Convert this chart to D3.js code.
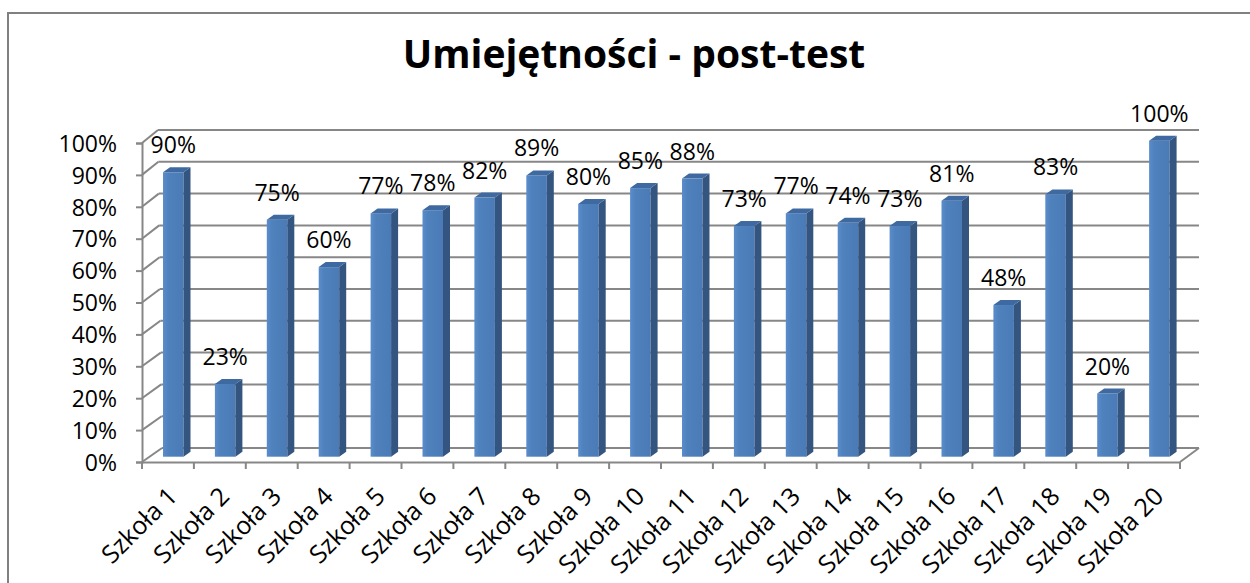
<!DOCTYPE html>
<html>
<head>
<meta charset="utf-8">
<script src="https://cdn.jsdelivr.net/npm/d3@7"></script>
<style>
  body { margin: 0; background: #fff; }
  svg { display: block; font-family: "Open Sans", sans-serif; }
</style>
</head>
<body>
<div id="chart"></div>
<script>
// data
const title = "Umiejętności - post-test";
const schools = d3.range(1, 21).map(i => "Szkoła " + i);
const scores = [0.90, 0.23, 0.75, 0.60, 0.77, 0.78, 0.82, 0.89, 0.80, 0.85,
                0.88, 0.73, 0.77, 0.74, 0.73, 0.81, 0.48, 0.83, 0.20, 1.00];
const yTicks = [0, 0.1, 0.2, 0.3, 0.4, 0.5, 0.6, 0.7, 0.8, 0.9, 1.0];

const width = 1250, height = 583;
const grid = "#878787";
const pct = d3.format(".0%");

const svg = d3.select("#chart").append("svg")
    .attr("width", width)
    .attr("height", height);

// bar face gradient
const defs = svg.append("defs");
const grad = defs.append("linearGradient").attr("id", "front")
    .attr("x1", 0).attr("x2", 1).attr("y1", 0).attr("y2", 0);
grad.append("stop").attr("offset", "0%").attr("stop-color", "#5b8dcc");
grad.append("stop").attr("offset", "25%").attr("stop-color", "#4f81bd");
grad.append("stop").attr("offset", "100%").attr("stop-color", "#4a7bb7");

// outer frame
svg.append("rect")
    .attr("x", 8).attr("y", 13)
    .attr("width", width).attr("height", height)
    .attr("fill", "none").attr("stroke", "#808080").attr("stroke-width", 2);

svg.append("text")
    .attr("x", 634).attr("y", 68)
    .attr("text-anchor", "middle")
    .attr("font-size", 39).attr("font-weight", "bold")
    .text(title);

// front plane, back wall and bars each get their own y scale
const x = d3.scaleBand().domain(schools).range([142, 1180]);
const yFront = d3.scaleLinear().domain([0, 1]).range([462, 143]);
const yBack = d3.scaleLinear().domain([0, 1]).range([448, 130]);
const yBar = d3.scaleLinear().domain([0, 1]).range([456.7, 140.7]);
const backLeft = d3.scaleLinear().domain([0, 1]).range([162, 158]);
const backRight = 1199;

// walls
const walls = svg.append("g")
    .attr("stroke", grid).attr("stroke-width", 2).attr("fill", "none");

walls.selectAll("line.back")
    .data(yTicks)
    .join("line")
    .attr("class", "back")
    .attr("x1", d => backLeft(d)).attr("x2", backRight)
    .attr("y1", d => yBack(d)).attr("y2", d => yBack(d));

walls.selectAll("line.side")
    .data(yTicks)
    .join("line")
    .attr("class", "side")
    .attr("x1", x.range()[0]).attr("y1", d => yFront(d))
    .attr("x2", d => backLeft(d)).attr("y2", d => yBack(d));

// floor right edge
walls.append("line")
    .attr("x1", x.range()[1]).attr("y1", yFront(0))
    .attr("x2", backRight).attr("y2", yBack(0));

// bars
const barOff = 21, barW = 20.5, sideW = 7, topH = 5;
const bars = svg.append("g")
    .selectAll("g")
    .data(scores)
    .join("g");

bars.append("rect")
    .attr("x", (d, i) => x(schools[i]) + barOff)
    .attr("y", d => yBar(d))
    .attr("width", barW)
    .attr("height", d => yBar(0) - yBar(d))
    .attr("fill", "url(#front)");

bars.append("path")
    .attr("fill", "#34557f")
    .attr("d", (d, i) => {
        const x0 = x(schools[i]) + barOff + barW;
        return `M${x0},${yBar(d)} L${x0 + sideW},${yBar(d) - topH} L${x0 + sideW},${yBar(0) - topH} L${x0},${yBar(0)} Z`;
    });

bars.append("path")
    .attr("fill", "#3e6aa1")
    .attr("d", (d, i) => {
        const x0 = x(schools[i]) + barOff;
        return `M${x0},${yBar(d)} L${x0 + sideW},${yBar(d) - topH} L${x0 + barW + sideW},${yBar(d) - topH} L${x0 + barW},${yBar(d)} Z`;
    });

bars.append("text")
    .attr("x", (d, i) => x(schools[i]) + barOff + barW / 2)
    .attr("y", d => yBar(d) - 19)
    .attr("text-anchor", "middle")
    .attr("font-size", 23)
    .text(d => pct(d));

// value axis
const yAxis = svg.append("g")
    .attr("transform", `translate(${x.range()[0]},0)`)
    .call(d3.axisLeft(yFront).tickValues(yTicks).tickFormat(pct)
        .tickSize(6).tickPadding(19));
yAxis.select(".domain").attr("stroke", grid).attr("stroke-width", 2);
yAxis.selectAll(".tick line").attr("stroke", grid).attr("stroke-width", 2);
yAxis.selectAll(".tick text")
    .attr("font-family", "Open Sans").attr("font-size", 23)
    .attr("fill", "#000").attr("dy", "0.36em");

// category axis
const xAxis = svg.append("g")
    .attr("transform", `translate(0,${yFront(0)})`)
    .call(d3.axisBottom(x).tickSize(0).tickSizeOuter(0));
xAxis.select(".domain").attr("stroke", grid).attr("stroke-width", 2);
xAxis.selectAll(".tick text")
    .attr("font-family", "Open Sans").attr("font-size", 25).attr("fill", "#000")
    .attr("text-anchor", "end")
    .attr("dy", null)
    .attr("y", null)
    .attr("transform", "translate(11,36) rotate(-45)");

// band boundary ticks
xAxis.append("g")
    .selectAll("line")
    .data(schools.concat([null]))
    .join("line")
    .attr("x1", (d, i) => x.range()[0] + i * x.step())
    .attr("x2", (d, i) => x.range()[0] + i * x.step())
    .attr("y1", 0).attr("y2", 7)
    .attr("stroke", grid).attr("stroke-width", 2);
</script>
</body>
</html>
